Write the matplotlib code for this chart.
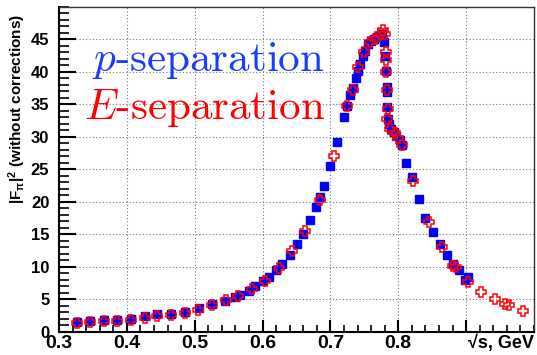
import matplotlib
matplotlib.use("Agg")
import matplotlib.pyplot as plt
from matplotlib.ticker import MultipleLocator, FixedLocator

# p-separation (blue squares)
p_x = [0.326, 0.346, 0.367, 0.386, 0.406, 0.426, 0.445, 0.465, 0.485, 0.506,
       0.525, 0.545, 0.560, 0.567, 0.580, 0.589, 0.600, 0.609, 0.620, 0.629,
       0.640, 0.650, 0.660, 0.670, 0.679, 0.684, 0.690, 0.699, 0.710, 0.720,
       0.725, 0.729, 0.733, 0.737, 0.740, 0.744, 0.748, 0.751, 0.755, 0.760,
       0.764, 0.768, 0.772, 0.776, 0.779, 0.781, 0.782, 0.783, 0.784, 0.784,
       0.785, 0.786, 0.789, 0.793, 0.797, 0.802, 0.805, 0.811, 0.820, 0.830,
       0.840, 0.851, 0.861, 0.872, 0.880, 0.890, 0.899, 0.903]
p_y = [1.5, 1.75, 1.8, 1.9, 2.05, 2.4, 2.7, 2.8, 3.05, 3.65,
       4.25, 4.7, 5.35, 5.75, 6.3, 7.05, 7.8, 8.4, 9.5, 10.5,
       11.8, 13.5, 15.0, 17.2, 19.3, 20.7, 22.4, 25.5, 29.2, 33.0,
       34.8, 36.4, 37.6, 39.1, 40.2, 41.3, 42.5, 43.3, 44.3, 44.8,
       45.1, 45.4, 45.6, 45.9, 44.6, 42.5, 40.2, 37.7, 36.9, 34.6,
       32.8, 32.0, 31.3, 30.7, 30.2, 29.5, 28.7, 26.0, 23.9, 20.4,
       17.5, 15.4, 13.5, 11.9, 10.5, 9.5, 8.0, 8.4]

# E-separation (red open crosses)
e_x = [0.326, 0.346, 0.367, 0.386, 0.406, 0.426, 0.445, 0.465, 0.485, 0.505,
       0.525, 0.546, 0.564, 0.584, 0.604, 0.624, 0.643, 0.663, 0.685, 0.705,
       0.725, 0.733, 0.741, 0.749, 0.759, 0.766, 0.773, 0.777, 0.781, 0.782,
       0.782, 0.782, 0.784, 0.785, 0.784, 0.788, 0.795, 0.800, 0.805, 0.822,
       0.845, 0.864, 0.881, 0.885, 0.903, 0.922, 0.943, 0.958, 0.963, 0.984]
e_y = [1.35, 1.6, 1.65, 1.75, 1.85, 2.2, 2.45, 2.6, 2.9, 3.4,
       4.2, 4.85, 5.6, 6.6, 7.8, 9.8, 12.5, 15.6, 20.3, 27.1,
       34.7, 37.2, 40.7, 43.0, 44.6, 45.1, 45.9, 46.5, 45.9, 43.0,
       41.8, 40.0, 37.2, 34.3, 32.8, 31.3, 30.6, 29.9, 28.8, 23.3,
       16.9, 13.0, 10.2, 10.0, 7.7, 6.2, 5.0, 4.3, 4.1, 3.2]

x_ticks = [0.3, 0.4, 0.5, 0.6, 0.7, 0.8, 0.9]
x_tick_labels = ["0.3", "0.4", "0.5", "0.6", "0.7", "0.8", ""]
y_ticks = [0, 5, 10, 15, 20, 25, 30, 35, 40, 45]

plt.rcParams['mathtext.fontset'] = 'custom'
plt.rcParams['mathtext.rm'] = 'Liberation Sans:bold'
plt.rcParams['mathtext.it'] = 'Liberation Sans:bold'
plt.rcParams['mathtext.bf'] = 'Liberation Sans:bold'

fig = plt.figure(figsize=(5.37, 3.55), dpi=100)
ax = fig.add_axes([0.1099, 0.0648, 0.9944 - 0.1099, 0.9803 - 0.0648])
ax.set_xlim(0.3, 1.0)
ax.set_ylim(0, 50)

ax.grid(True, which='major', color='#777777', linestyle=(0, (1, 2)), linewidth=0.8)
ax.set_axisbelow(True)

ax.plot(p_x, p_y, linestyle='none', marker='s', markersize=6.3, color='#0000ff',
        markeredgecolor='#0000ff', zorder=3)
ax.plot(e_x, e_y, linestyle='none', marker='P', markersize=6.5, markerfacecolor='none',
        markeredgecolor='#ff0000', markeredgewidth=1.1, zorder=4)

ax.xaxis.set_major_locator(FixedLocator(x_ticks))
ax.set_xticklabels(x_tick_labels)
ax.xaxis.set_minor_locator(MultipleLocator(0.02))
ax.yaxis.set_major_locator(FixedLocator(y_ticks))
ax.yaxis.set_minor_locator(MultipleLocator(1))

ax.tick_params(axis='both', which='both', direction='in', top=False, right=False)
ax.tick_params(axis='x', which='major', length=9, width=1.5, pad=2)
ax.tick_params(axis='x', which='minor', length=5, width=1.2)
ax.tick_params(axis='y', which='major', length=12, width=1.5, pad=7)
ax.tick_params(axis='y', which='minor', length=7, width=1.2)

for lab in ax.get_xticklabels():
    lab.set_fontfamily('Liberation Sans')
    lab.set_fontweight('bold')
    lab.set_fontsize(14)
for lab in ax.get_yticklabels():
    lab.set_fontfamily('Liberation Sans')
    lab.set_fontweight('bold')
    lab.set_fontsize(12)

ax.spines['left'].set_linewidth(1.5)
ax.spines['bottom'].set_linewidth(1.5)
ax.spines['top'].set_linewidth(1.0)
ax.spines['right'].set_linewidth(1.0)
ax.spines['top'].set_color('#333333')
ax.spines['right'].set_color('#333333')

ax.set_xlabel('√s, GeV', fontfamily=['Liberation Sans', 'DejaVu Sans'],
              fontweight='bold', fontsize=13)
ax.xaxis.set_label_coords(1.0, -0.008)
ax.xaxis.label.set_horizontalalignment('right')
ax.xaxis.label.set_verticalalignment('top')

ax.set_ylabel(r'$|F_{\pi}|^{2}$ (without corrections)', fontfamily='Liberation Sans',
              fontweight='bold', fontsize=11)
ax.yaxis.set_label_coords(-0.066, 0.98)
ax.yaxis.label.set_horizontalalignment('right')

ax.text(0.349, 40.2, r'$p$-separation', fontfamily='cmr10', math_fontfamily='cm',
        fontsize=31, color='#1a3cff', ha='left', va='baseline')
ax.text(0.337, 32.8, r'$E$-separation', fontfamily='cmr10', math_fontfamily='cm',
        fontsize=31, color='#ff0000', ha='left', va='baseline')

fig.savefig('out.png', dpi=100)
